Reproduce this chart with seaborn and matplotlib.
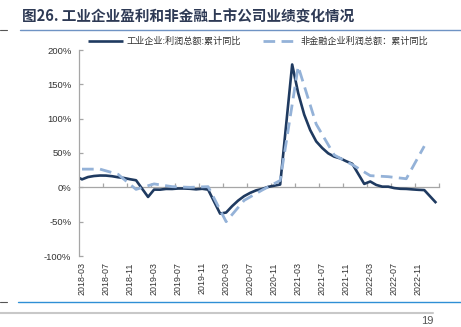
import matplotlib
matplotlib.use("Agg")
import matplotlib.pyplot as plt
import matplotlib.ticker as mticker
import numpy as np
import pandas as pd
import seaborn as sns

# ---------------- data ----------------
ind_dates = ["2018-02", "2018-03", "2018-04", "2018-05", "2018-06", "2018-07", "2018-08",
             "2018-09", "2018-10", "2018-11", "2018-12",
             "2019-02", "2019-03", "2019-04", "2019-05", "2019-06", "2019-07", "2019-08",
             "2019-09", "2019-10", "2019-11", "2019-12",
             "2020-02", "2020-03", "2020-04", "2020-05", "2020-06", "2020-07", "2020-08",
             "2020-09", "2020-10", "2020-11", "2020-12",
             "2021-02", "2021-03", "2021-04", "2021-05", "2021-06", "2021-07", "2021-08",
             "2021-09", "2021-10", "2021-11", "2021-12",
             "2022-02", "2022-03", "2022-04", "2022-05", "2022-06", "2022-07", "2022-08",
             "2022-09", "2022-10", "2022-11", "2022-12",
             "2023-02"]
ind_vals = [16.1, 11.6, 15.0, 16.5, 17.2, 17.1, 16.2, 14.7, 13.6, 11.8, 10.3,
            -14.0, -3.3, -3.4, -2.3, -2.4, -1.7, -1.7, -2.1, -2.9, -2.1, -3.3,
            -38.3, -36.7, -27.4, -19.3, -12.8, -8.1, -4.4, -2.4, 0.7, 2.4, 4.1,
            178.9, 137.3, 106.0, 83.4, 66.9, 57.3, 49.5, 44.7, 42.2, 38.0, 34.3,
            5.0, 8.5, 3.5, 1.0, 1.0, -1.1, -2.1, -2.3, -3.0, -3.6, -4.0,
            -22.9]

nf_dates = ["2018-03", "2018-06", "2018-09", "2018-12",
            "2019-03", "2019-06", "2019-09", "2019-12",
            "2020-03", "2020-06", "2020-09", "2020-12",
            "2021-03", "2021-06", "2021-09", "2021-12",
            "2022-03", "2022-06", "2022-09", "2022-12"]
nf_vals = [26.5, 26.5, 19.0, -3.0,
           5.0, 1.0, 0.0, 1.0,
           -50.0, -19.0, -4.0, 10.0,
           176.0, 92.0, 47.0, 33.0,
           17.0, 15.5, 12.5, 60.0]

tick_labels = ["2018-03", "2018-07", "2018-11", "2019-03", "2019-07", "2019-11",
               "2020-03", "2020-07", "2020-11", "2021-03", "2021-07", "2021-11",
               "2022-03", "2022-07", "2022-11"]

name_ind = "工业企业:利润总额:累计同比"
name_nf = "非金融企业利润总额：累计同比"
title = "图26. 工业企业盈利和非金融上市公司业绩变化情况"


def month_pos(s):
    y, m = s.split("-")
    return (int(y) - 2018) * 12 + (int(m) - 3)


df_ind = pd.DataFrame({"pos": [month_pos(d) for d in ind_dates], "val": ind_vals})
df_nf = pd.DataFrame({"pos": [month_pos(d) for d in nf_dates], "val": nf_vals})
tick_pos = [month_pos(t) for t in tick_labels]

# ---------------- style ----------------
sns.set_style("white")
cjk = ["Noto Sans CJK SC", "DejaVu Sans"]
latin = ["Liberation Sans", "DejaVu Sans"]
plt.rcParams["font.family"] = latin

c_solid = "#1F3A60"
c_dash = "#94B2D8"
c_axis = "#A6A6A6"
c_text = "#333333"

fig = plt.figure(figsize=(4.61, 3.27), dpi=100)
W, H = 461, 327
ax = fig.add_axes([79 / W, 1 - 256 / H, (439.3 - 79) / W, (256 - 50) / H])

sns.lineplot(data=df_ind, x="pos", y="val", ax=ax, color=c_solid, linewidth=1.9,
             estimator=None, label=name_ind, legend=False)
sns.lineplot(data=df_nf, x="pos", y="val", ax=ax, color=c_dash, linewidth=2.0,
             estimator=None, label=name_nf, legend=False)
l_solid, l_dash = ax.lines[0], ax.lines[1]
l_dash.set_dashes([4.2, 2.3])
l_solid.set_solid_capstyle("butt")

ax.set_xlim(-0.5, 59.5)
ax.set_ylim(-100, 200)

# spines
for s in ["top", "right"]:
    ax.spines[s].set_visible(False)
ax.spines["left"].set_color(c_axis)
ax.spines["left"].set_linewidth(0.9)
ax.spines["bottom"].set_position(("data", 0))
ax.spines["bottom"].set_color(c_axis)
ax.spines["bottom"].set_linewidth(0.9)
ax.spines["bottom"].set_zorder(1)

# y ticks
ax.yaxis.set_major_locator(mticker.MultipleLocator(50))
ax.yaxis.set_major_formatter(mticker.FuncFormatter(lambda v, p: f"{v:.0f}%"))
ax.tick_params(axis="y", direction="in", length=3, width=0.9, color=c_axis,
               labelsize=6.8, labelcolor=c_text, pad=5.5, left=True)

# x tick marks on zero line at category boundaries, no labels there
ax.set_xticks(np.arange(3.5, 60, 4))
ax.set_xticklabels([])
ax.tick_params(axis="x", direction="in", length=3, width=0.9, color=c_axis, bottom=True)
ax.set_xlabel("")
ax.set_ylabel("")

# x labels at the bottom (low position)
sec = ax.secondary_xaxis(0.0)
sec.set_xticks(tick_pos)
sec.set_xticklabels(tick_labels, rotation=90, fontsize=6.4, color=c_text)
sec.tick_params(length=0, pad=4.5)
sec.spines["bottom"].set_visible(False)

# legend
fig.legend(handles=[l_solid, l_dash], labels=[name_ind, name_nf],
           loc="center left", bbox_to_anchor=(88 / W, 1 - 41.7 / H),
           bbox_transform=fig.transFigure, ncol=2, frameon=False,
           prop={"family": cjk, "size": 6.6}, handlelength=3.8,
           handletextpad=0.35, columnspacing=2.4, borderpad=0, borderaxespad=0)
for t in fig.legends[0].get_texts():
    t.set_color(c_text)

# title and page decorations
fig.text(22 / W, 1 - 17 / H, title, family=cjk, fontsize=10.5, fontweight="bold",
         color="#2E3A55", ha="left", va="center")
fig.add_artist(plt.Line2D([20 / W, 1], [1 - 30 / H, 1 - 30 / H], color="#6F93C4",
                          linewidth=1.0, transform=fig.transFigure))
fig.add_artist(plt.Line2D([0, 7 / W], [1 - 30 / H, 1 - 30 / H], color="#555555",
                          linewidth=0.8, transform=fig.transFigure))
fig.add_artist(plt.Line2D([18 / W, 1], [1 - 301.7 / H, 1 - 301.7 / H], color="#2F8FD5",
                          linewidth=1.0, transform=fig.transFigure))
fig.add_artist(plt.Line2D([0, 7 / W], [1 - 301.7 / H, 1 - 301.7 / H], color="#555555",
                          linewidth=0.8, transform=fig.transFigure))
fig.add_artist(plt.Line2D([0, 433 / W], [1 - 313 / H, 1 - 313 / H], color="#C8C8C8",
                          linewidth=1.5, transform=fig.transFigure))
fig.text(433 / W, 1 - 321 / H, "19", fontsize=8, color="#555555", ha="right", va="center")

fig.savefig("out.png", dpi=100)
